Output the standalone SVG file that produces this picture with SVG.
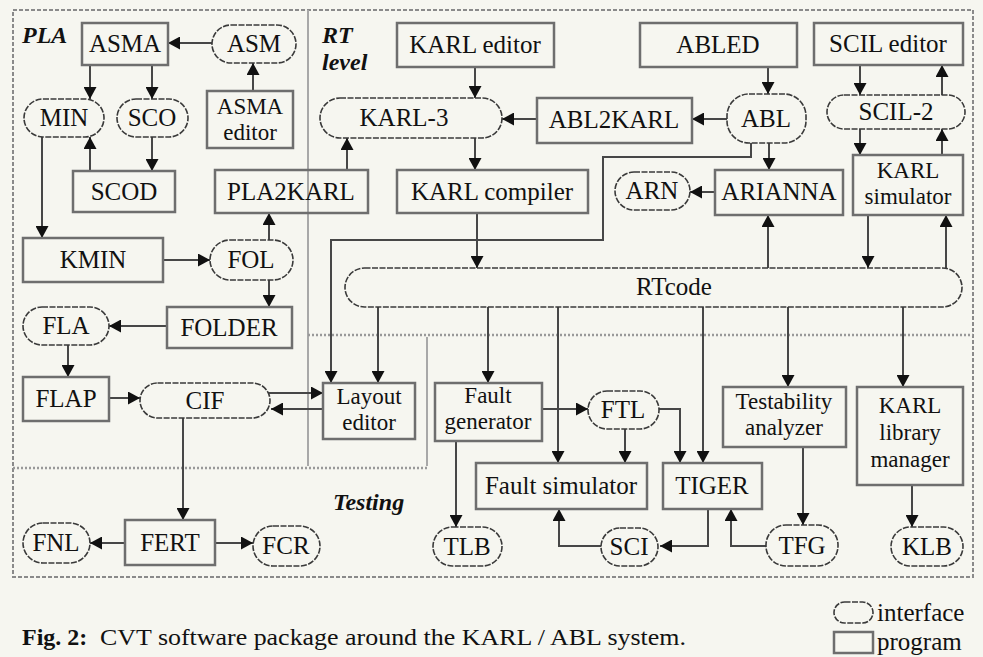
<svg xmlns="http://www.w3.org/2000/svg" width="983" height="657" viewBox="0 0 983 657" font-family="'Liberation Serif', 'Times New Roman', serif">
<style>
  text { font-family: "Liberation Serif", "Times New Roman", serif; font-size: 25px; fill: #111; text-anchor: middle; }
  .m { font-size: 23px; }
  .lbl { font-weight: bold; font-style: italic; text-anchor: start; font-size: 24px; }
  .prog { fill: none; stroke: #6e6e6e; stroke-width: 2.5; }
  .intf { fill: none; stroke: #3a3a3a; stroke-width: 1.6; stroke-dasharray: 6 1.5; }
  .frame { fill: none; stroke: #8a8a8a; stroke-width: 2; stroke-dasharray: 4 2; }
  .div { fill: none; stroke: #a8a8a8; stroke-width: 2; }
  .dot { fill: none; stroke: #999; stroke-width: 2.5; stroke-dasharray: 2 2; }
  .c { fill: none; stroke: #474747; stroke-width: 2; marker-end: url(#ah); }
  .leg { text-anchor: start; font-size: 25px; }
</style>
<defs>
  <marker id="ah" markerUnits="userSpaceOnUse" markerWidth="13" markerHeight="13" refX="12" refY="6.5" orient="auto">
    <path d="M0,0 L12,6.5 L0,13 z" fill="#111"/>
  </marker>
</defs>
<rect x="0" y="0" width="983" height="657" fill="#f6f6f0"/>

<g id="regions">
  <rect class="frame" x="13" y="10" width="960" height="567"/>
  <path class="div" d="M308,10 V466"/>
  <path class="div" d="M427,337 V466"/>
  <path class="dot" d="M308,335 H973"/>
  <path class="dot" d="M13,468 H427"/>
  <text class="lbl" x="22" y="43">PLA</text>
  <text class="lbl" x="322" y="43">RT</text>
  <text class="lbl" x="322" y="70">level</text>
  <text class="lbl" x="333" y="510">Testing</text>
</g>

<g id="connectors">
  <path class="c" d="M212,43 H168"/>
  <path class="c" d="M253,91 V63"/>
  <path class="c" d="M90,65 V99"/>
  <path class="c" d="M152,65 V99"/>
  <path class="c" d="M152,137 V171"/>
  <path class="c" d="M90,171 V137"/>
  <path class="c" d="M42,137 V238"/>
  <path class="c" d="M163,260 H210"/>
  <path class="c" d="M269,240 V213"/>
  <path class="c" d="M269,280 V307"/>
  <path class="c" d="M167,326 H109"/>
  <path class="c" d="M68,345 V377"/>
  <path class="c" d="M109,398 H140"/>
  <path class="c" d="M268,393 H323"/>
  <path class="c" d="M323,409 H271"/>
  <path class="c" d="M183,418 V520"/>
  <path class="c" d="M125,543 H90"/>
  <path class="c" d="M215,543 H253"/>
  <path class="c" d="M347,170 V138"/>
  <path class="c" d="M475,67 V98"/>
  <path class="c" d="M475,138 V170"/>
  <path class="c" d="M537,119 H502"/>
  <path class="c" d="M727,119 H692"/>
  <path class="c" d="M768,67 V94"/>
  <path class="c" d="M769,143 V170"/>
  <path class="c" d="M715,192 H690"/>
  <path class="c" d="M751,143 V157 H603 V240 H331 V383"/>
  <path class="c" d="M477,213 V268"/>
  <path class="c" d="M768,268 V215"/>
  <path class="c" d="M868,215 V268"/>
  <path class="c" d="M946,268 V215"/>
  <path class="c" d="M860,65 V95"/>
  <path class="c" d="M942,95 V65"/>
  <path class="c" d="M860,129 V155"/>
  <path class="c" d="M942,155 V129"/>
  <path class="c" d="M378,307 V383"/>
  <path class="c" d="M488,307 V383"/>
  <path class="c" d="M558,307 V463"/>
  <path class="c" d="M703,307 V463"/>
  <path class="c" d="M788,307 V387"/>
  <path class="c" d="M903,307 V387"/>
  <path class="c" d="M542,409 H588"/>
  <path class="c" d="M625,429 V463"/>
  <path class="c" d="M659,409 H680 V463"/>
  <path class="c" d="M456,441 V527"/>
  <path class="c" d="M601,546 H559 V509"/>
  <path class="c" d="M708,509 V546 H660"/>
  <path class="c" d="M766,546 H731 V509"/>
  <path class="c" d="M803,447 V525"/>
  <path class="c" d="M912,485 V527"/>
</g>

<g id="ASMA"><rect class="prog" x="82" y="23" width="86" height="42"/><text x="125" y="52">ASMA</text></g>
<g id="ASM"><rect class="intf" x="212" y="25" width="84" height="38" rx="19"/><text x="254" y="52">ASM</text></g>
<g id="ASMA-editor"><rect class="prog" x="207" y="91" width="86" height="57"/><text class="m" x="250" y="114">ASMA</text><text class="m" x="250" y="140">editor</text></g>
<g id="MIN"><rect class="intf" x="24" y="99" width="80" height="38" rx="19"/><text x="64" y="126">MIN</text></g>
<g id="SCO"><rect class="intf" x="117" y="99" width="71" height="38" rx="19"/><text x="152" y="126">SCO</text></g>
<g id="SCOD"><rect class="prog" x="73" y="171" width="102" height="41"/><text x="124" y="200">SCOD</text></g>
<g id="PLA2KARL"><rect class="prog" x="215" y="170" width="153" height="43"/><text x="291" y="200">PLA2KARL</text></g>
<g id="KMIN"><rect class="prog" x="23" y="238" width="140" height="44"/><text x="93" y="268">KMIN</text></g>
<g id="FOL"><rect class="intf" x="210" y="240" width="83" height="40" rx="20"/><text x="251" y="268">FOL</text></g>
<g id="FOLDER"><rect class="prog" x="167" y="307" width="125" height="41"/><text x="229" y="336">FOLDER</text></g>
<g id="FLA"><rect class="intf" x="23" y="307" width="86" height="38" rx="19"/><text x="66" y="334">FLA</text></g>
<g id="FLAP"><rect class="prog" x="23" y="377" width="86" height="44"/><text x="66" y="407">FLAP</text></g>
<g id="CIF"><rect class="intf" x="140" y="383" width="130" height="35" rx="17.5"/><text x="205" y="409">CIF</text></g>
<g id="FERT"><rect class="prog" x="125" y="520" width="90" height="45"/><text x="170" y="551">FERT</text></g>
<g id="FNL"><rect class="intf" x="23" y="523" width="67" height="40" rx="20"/><text x="56" y="551">FNL</text></g>
<g id="FCR"><rect class="intf" x="253" y="526" width="67" height="40" rx="20"/><text x="286" y="554">FCR</text></g>

<g id="KARL-editor"><rect class="prog" x="397" y="23" width="157" height="44"/><text x="475" y="53">KARL editor</text></g>
<g id="KARL-3"><rect class="intf" x="320" y="98" width="182" height="40" rx="20"/><text x="404" y="126">KARL-3</text></g>
<g id="KARL-compiler"><rect class="prog" x="397" y="170" width="191" height="43"/><text x="492" y="200">KARL compiler</text></g>
<g id="ABL2KARL"><rect class="prog" x="537" y="98" width="155" height="45"/><text x="614" y="128">ABL2KARL</text></g>
<g id="ABLED"><rect class="prog" x="640" y="23" width="157" height="44"/><text x="718" y="53">ABLED</text></g>
<g id="ABL"><rect class="intf" x="727" y="94" width="79" height="49" rx="22"/><text x="766" y="127">ABL</text></g>
<g id="ARN"><rect class="intf" x="615" y="172" width="75" height="38" rx="19"/><text x="652" y="199">ARN</text></g>
<g id="ARIANNA"><rect class="prog" x="715" y="170" width="128" height="45"/><text x="779" y="200">ARIANNA</text></g>
<g id="SCIL-editor"><rect class="prog" x="814" y="23" width="149" height="42"/><text x="888" y="52">SCIL editor</text></g>
<g id="SCIL-2"><rect class="intf" x="827" y="95" width="138" height="34" rx="17"/><text x="896" y="120">SCIL-2</text></g>
<g id="KARL-simulator"><rect class="prog" x="853" y="155" width="110" height="60"/><text class="m" x="908" y="178">KARL</text><text class="m" x="908" y="204">simulator</text></g>
<g id="RTcode"><rect class="intf" x="345" y="268" width="617" height="39" rx="19.5"/><text x="674" y="295">RTcode</text></g>
<g id="Layout-editor"><rect class="prog" x="323" y="383" width="92" height="56"/><text class="m" x="369" y="404">Layout</text><text class="m" x="369" y="430">editor</text></g>

<g id="Fault-generator"><rect class="prog" x="435" y="383" width="107" height="58"/><text class="m" x="488" y="403">Fault</text><text class="m" x="488" y="429">generator</text></g>
<g id="FTL"><rect class="intf" x="588" y="391" width="71" height="38" rx="19"/><text x="623" y="418">FTL</text></g>
<g id="Fault-simulator"><rect class="prog" x="476" y="463" width="171" height="46"/><text x="561" y="494">Fault simulator</text></g>
<g id="TIGER"><rect class="prog" x="663" y="463" width="99" height="46"/><text x="712" y="494">TIGER</text></g>
<g id="Testability-analyzer"><rect class="prog" x="723" y="387" width="123" height="60"/><text class="m" x="784" y="409">Testability</text><text class="m" x="784" y="435">analyzer</text></g>
<g id="KARL-library-manager"><rect class="prog" x="857" y="387" width="106" height="98"/><text class="m" x="910" y="413">KARL</text><text class="m" x="910" y="440">library</text><text class="m" x="910" y="467">manager</text></g>
<g id="TLB"><rect class="intf" x="433" y="527" width="69" height="39" rx="19.5"/><text x="467" y="555">TLB</text></g>
<g id="SCI"><rect class="intf" x="601" y="528" width="57" height="38" rx="19"/><text x="629" y="555">SCI</text></g>
<g id="TFG"><rect class="intf" x="766" y="525" width="72" height="41" rx="20"/><text x="802" y="554">TFG</text></g>
<g id="KLB"><rect class="intf" x="891" y="527" width="72" height="39" rx="19.5"/><text x="927" y="555">KLB</text></g>

<g id="caption">
  <text x="22" y="645" style="text-anchor:start;font-weight:bold;font-size:24px">Fig. 2:</text>
  <text x="100" y="645" style="text-anchor:start;font-size:24px" textLength="586" lengthAdjust="spacingAndGlyphs">CVT software package around the KARL / ABL system.</text>
</g>
<g id="legend">
  <rect class="intf" x="834" y="602" width="39" height="21" rx="10.5"/>
  <text class="leg" x="877" y="621">interface</text>
  <rect class="prog" x="834" y="632" width="39" height="21"/>
  <text class="leg" x="877" y="650">program</text>
</g>
</svg>
